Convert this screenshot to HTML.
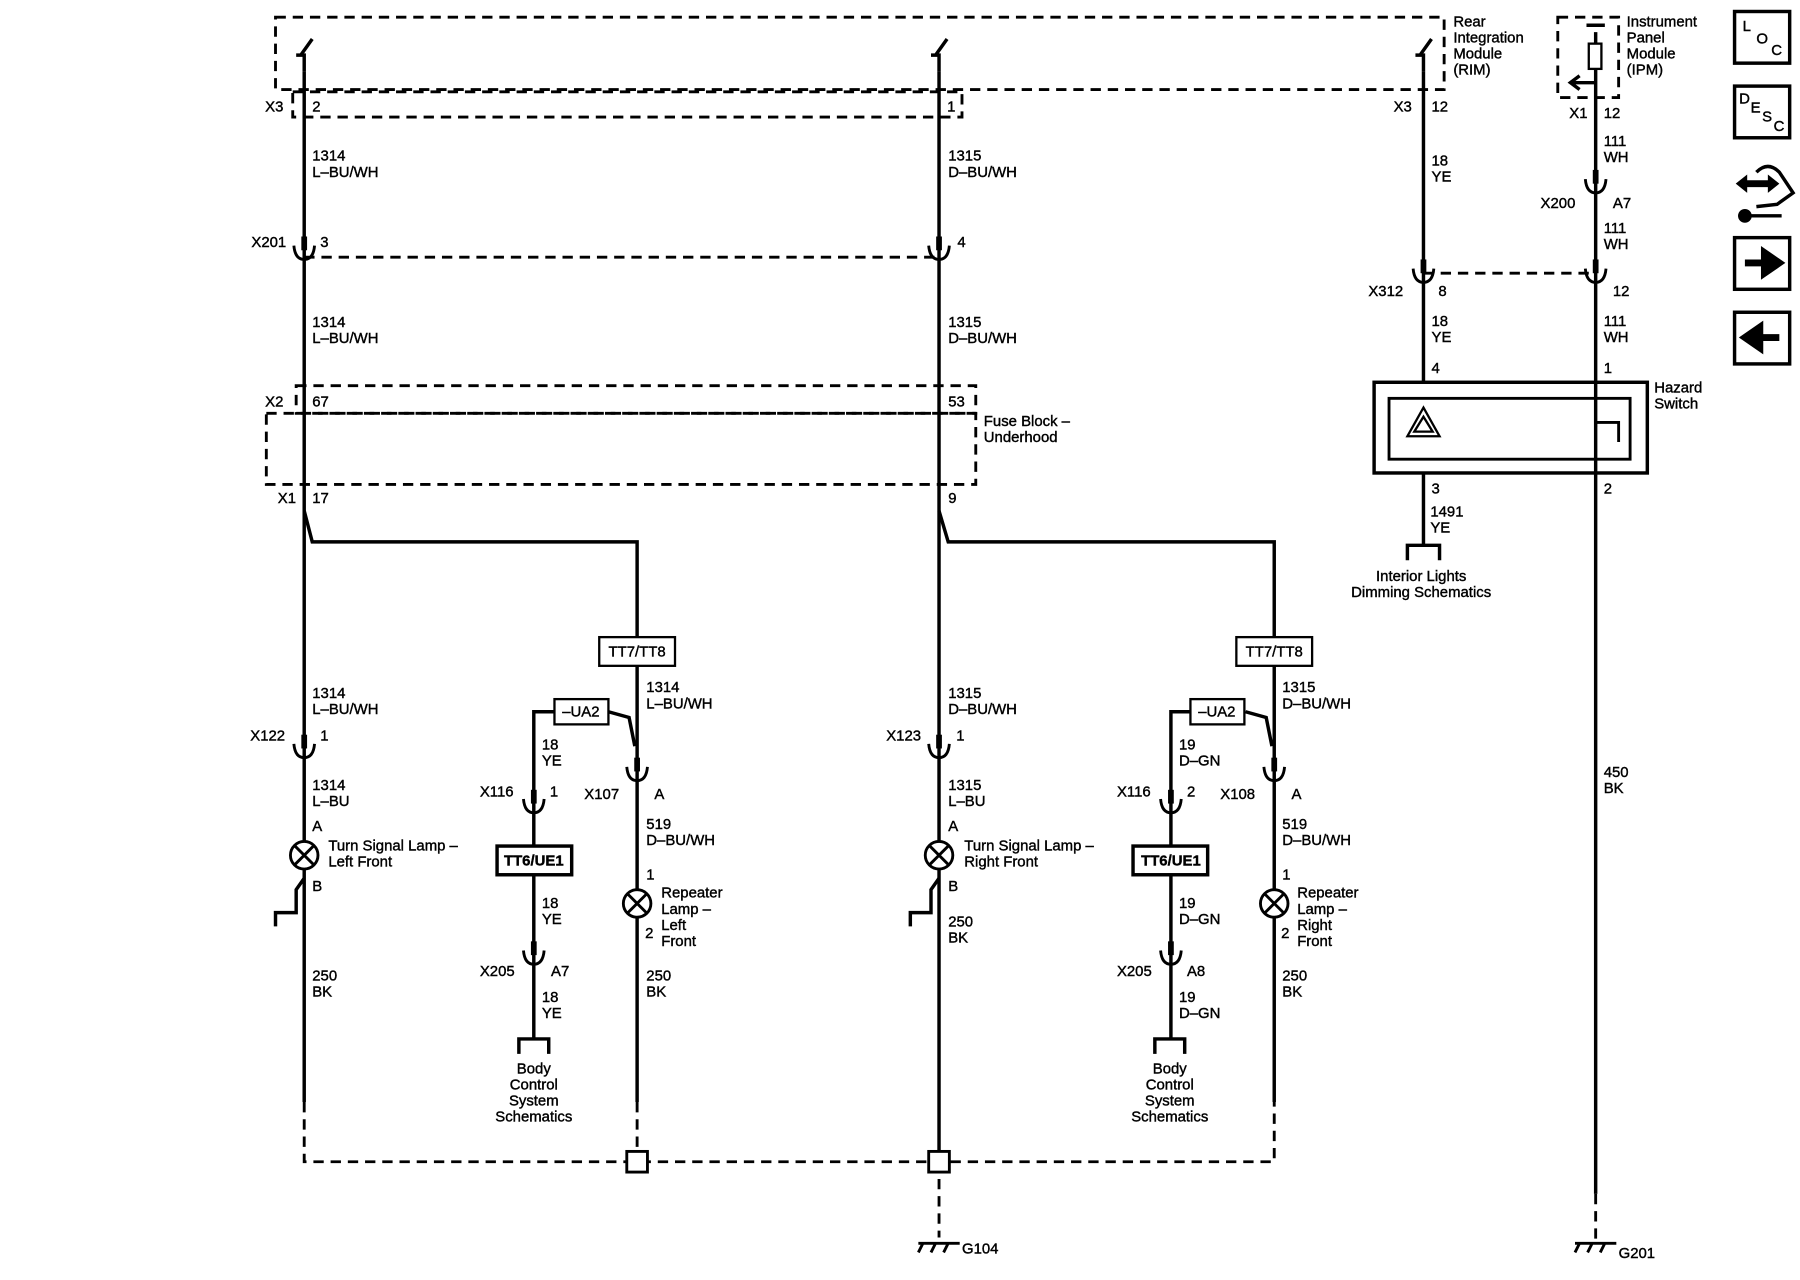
<!DOCTYPE html>
<html><head><meta charset="utf-8"><style>
html,body{margin:0;padding:0;background:#fff}
svg{display:block}
text{font-family:"Liberation Sans",sans-serif;font-size:13px;fill:#000;stroke:#000;stroke-width:0.35}
</style></head><body>
<svg width="1800" height="1280" viewBox="0 0 1568 1115" xmlns="http://www.w3.org/2000/svg">
<defs>
<g id="c"><path d="M-9,-12 Q-8,0 0,0 Q8,0 9,-12" fill="none" stroke="#000" stroke-width="2.5"/><rect x="-2.5" y="-20" width="5" height="12" fill="#000"/></g>
<g id="gnd"><path d="M-18,0 H18 M-14,0 L-18,8 M-3,0 L-7,8 M8,0 L4,8" stroke="#000" stroke-width="2.5" fill="none"/></g>
</defs>
<g fill="none" stroke="#000" stroke-width="2.5" stroke-dasharray="9,6">
<rect x="240" y="15" width="1018" height="63"/>
<rect x="255" y="80" width="583" height="22"/>
<line x1="265" y1="224" x2="818" y2="224"/>
<rect x="258" y="336" width="592" height="24"/>
<rect x="232" y="360" width="618" height="62"/>
<line x1="1240" y1="238" x2="1390" y2="238"/>
<rect x="1357" y="15" width="53" height="70"/>
<polyline points="265,960 265,1012 1110,1012 1110,960"/>
<line x1="555" y1="960" x2="555" y2="1012"/>
<line x1="818" y1="1012" x2="818" y2="1078"/>
<line x1="1390" y1="1040" x2="1390" y2="1085"/>
</g>
<g fill="none" stroke="#000" stroke-width="3">
<path d="M265,62 V48 L258,48 M262,48 L272,34"/>
<path d="M818,62 V48 L811,48 M815,48 L825,34"/>
<path d="M1240,62 V48 L1233,48 M1237,48 L1247,34"/>
<line x1="265" y1="62" x2="265" y2="960"/>
<line x1="818" y1="62" x2="818" y2="1012"/>
<line x1="1240" y1="62" x2="1240" y2="333"/>
<line x1="1240" y1="412" x2="1240" y2="475"/>
<path d="M1226,488 V475 H1254 V488"/>
<line x1="1390" y1="28" x2="1390" y2="1040"/>
<line x1="1382" y1="22" x2="1398" y2="22"/>
<rect x="1384" y="38" width="11" height="22" stroke-width="2" fill="#fff"/>
<path d="M1390,72 H1370 M1376,66 L1368,72 L1376,78"/>
<polyline points="265,445 272,472 555,472 555,555"/>
<polyline points="818,445 826,472 1110,472 1110,555"/>
<line x1="555" y1="580" x2="555" y2="960"/>
<line x1="1110" y1="580" x2="1110" y2="960"/>
<polyline points="483,620 465,620 465,905"/>
<polyline points="1037,620 1020,620 1020,905"/>
<polyline points="530,620 548,625 553,650"/>
<polyline points="1085,620 1103,625 1108,650"/>
<path d="M452,918 V905 H478 V918"/>
<path d="M1006,918 V905 H1032 V918"/>
<path d="M265,765 L258,775 V795 H240 V807"/>
<path d="M818,765 L811,775 V795 H793 V807"/>
<rect x="1197" y="333" width="238" height="79"/>
<rect x="1210" y="347" width="210" height="53" stroke-width="2.5"/>
<path d="M1240,355 L1254,380 H1226 Z M1240,363 L1248,376 H1232 Z" stroke-width="2"/>
<path d="M1390,372 V368 H1410 V385" stroke-width="2.5"/>
</g>
<g fill="#fff" stroke="#000" stroke-width="2.5">
<circle cx="265" cy="745" r="12"/><path d="M257,737 L273,753 M273,737 L257,753"/>
<circle cx="818" cy="745" r="12"/><path d="M810,737 L826,753 M826,737 L810,753"/>
<circle cx="555" cy="787" r="12"/><path d="M547,779 L563,795 M563,779 L547,795"/>
<circle cx="1110" cy="787" r="12"/><path d="M1102,779 L1118,795 M1118,779 L1102,795"/>
<rect x="522" y="555" width="66" height="25" stroke-width="2"/>
<rect x="1077" y="555" width="66" height="25" stroke-width="2"/>
<rect x="483" y="609" width="47" height="22" stroke-width="2"/>
<rect x="1037" y="609" width="47" height="22" stroke-width="2"/>
<rect x="433" y="737" width="65" height="25" stroke-width="3"/>
<rect x="987" y="737" width="65" height="25" stroke-width="3"/>
<rect x="546" y="1003" width="18" height="18"/>
<rect x="809" y="1003" width="18" height="18"/>
</g>
<use href="#c" x="265" y="226"/><use href="#c" x="818" y="226"/>
<use href="#c" x="265" y="660"/><use href="#c" x="818" y="660"/>
<use href="#c" x="465" y="708"/><use href="#c" x="1020" y="708"/>
<use href="#c" x="555" y="680"/><use href="#c" x="1110" y="680"/>
<use href="#c" x="465" y="840"/><use href="#c" x="1020" y="840"/>
<use href="#c" x="1240" y="246"/><use href="#c" x="1390" y="246"/>
<use href="#c" x="1390" y="168"/>
<use href="#gnd" x="818" y="1083"/><use href="#gnd" x="1390" y="1083"/>
<g>
<text x="1266" y="23">Rear</text><text x="1266" y="37">Integration</text><text x="1266" y="51">Module</text><text x="1266" y="65">(RIM)</text>
<text x="1417" y="23">Instrument</text><text x="1417" y="37">Panel</text><text x="1417" y="51">Module</text><text x="1417" y="65">(IPM)</text>
<text x="231" y="97">X3</text><text x="272" y="97">2</text><text x="825" y="97">1</text>
<text x="1214" y="97">X3</text><text x="1247" y="97">12</text>
<text x="1367" y="103">X1</text><text x="1397" y="103">12</text>
<text x="272" y="140">1314</text><text x="272" y="154">L–BU/WH</text>
<text x="826" y="140">1315</text><text x="826" y="154">D–BU/WH</text>
<text x="1247" y="144">18</text><text x="1247" y="158">YE</text>
<text x="1397" y="127">111</text><text x="1397" y="141">WH</text>
<text x="1342" y="181">X200</text><text x="1405" y="181">A7</text>
<text x="1397" y="203">111</text><text x="1397" y="217">WH</text>
<text x="219" y="215">X201</text><text x="279" y="215">3</text><text x="834" y="215">4</text>
<text x="1192" y="258">X312</text><text x="1253" y="258">8</text><text x="1405" y="258">12</text>
<text x="272" y="285">1314</text><text x="272" y="299">L–BU/WH</text>
<text x="826" y="285">1315</text><text x="826" y="299">D–BU/WH</text>
<text x="1247" y="284">18</text><text x="1247" y="298">YE</text>
<text x="1397" y="284">111</text><text x="1397" y="298">WH</text>
<text x="1247" y="325">4</text><text x="1397" y="325">1</text>
<text x="1441" y="342">Hazard</text><text x="1441" y="356">Switch</text>
<text x="231" y="354">X2</text><text x="272" y="354">67</text><text x="826" y="354">53</text>
<text x="857" y="371">Fuse Block –</text><text x="857" y="385">Underhood</text>
<text x="242" y="438">X1</text><text x="272" y="438">17</text><text x="826" y="438">9</text>
<text x="1247" y="430">3</text><text x="1397" y="430">2</text>
<text x="1246" y="450">1491</text><text x="1246" y="464">YE</text>
<text x="1238" y="506" text-anchor="middle">Interior Lights</text><text x="1238" y="520" text-anchor="middle">Dimming Schematics</text>
<text x="555" y="572" text-anchor="middle" font-size="12">TT7/TT8</text>
<text x="1110" y="572" text-anchor="middle" font-size="12">TT7/TT8</text>
<text x="563" y="603">1314</text><text x="563" y="617">L–BU/WH</text>
<text x="1117" y="603">1315</text><text x="1117" y="617">D–BU/WH</text>
<text x="506" y="624" text-anchor="middle" font-size="12">–UA2</text>
<text x="1060" y="624" text-anchor="middle" font-size="12">–UA2</text>
<text x="272" y="608">1314</text><text x="272" y="622">L–BU/WH</text>
<text x="826" y="608">1315</text><text x="826" y="622">D–BU/WH</text>
<text x="218" y="645">X122</text><text x="279" y="645">1</text>
<text x="772" y="645">X123</text><text x="833" y="645">1</text>
<text x="472" y="653">18</text><text x="472" y="667">YE</text>
<text x="1027" y="653">19</text><text x="1027" y="667">D–GN</text>
<text x="272" y="688">1314</text><text x="272" y="702">L–BU</text>
<text x="826" y="688">1315</text><text x="826" y="702">L–BU</text>
<text x="418" y="694">X116</text><text x="479" y="694">1</text>
<text x="509" y="696">X107</text><text x="570" y="696">A</text>
<text x="973" y="694">X116</text><text x="1034" y="694">2</text>
<text x="1063" y="696">X108</text><text x="1125" y="696">A</text>
<text x="272" y="724">A</text><text x="826" y="724">A</text>
<text x="563" y="722">519</text><text x="563" y="736">D–BU/WH</text>
<text x="1117" y="722">519</text><text x="1117" y="736">D–BU/WH</text>
<text x="286" y="741">Turn Signal Lamp –</text><text x="286" y="755">Left Front</text>
<text x="840" y="741">Turn Signal Lamp –</text><text x="840" y="755">Right Front</text>
<text x="465" y="754" text-anchor="middle" font-weight="bold" font-size="12">TT6/UE1</text>
<text x="1020" y="754" text-anchor="middle" font-weight="bold" font-size="12">TT6/UE1</text>
<text x="563" y="766">1</text><text x="1117" y="766">1</text>
<text x="272" y="776">B</text><text x="826" y="776">B</text>
<text x="576" y="782">Repeater</text><text x="576" y="796">Lamp –</text><text x="576" y="810">Left</text><text x="576" y="824">Front</text>
<text x="1130" y="782">Repeater</text><text x="1130" y="796">Lamp –</text><text x="1130" y="810">Right</text><text x="1130" y="824">Front</text>
<text x="562" y="817">2</text><text x="1116" y="817">2</text>
<text x="472" y="791">18</text><text x="472" y="805">YE</text>
<text x="1027" y="791">19</text><text x="1027" y="805">D–GN</text>
<text x="826" y="807">250</text><text x="826" y="821">BK</text>
<text x="418" y="850">X205</text><text x="480" y="850">A7</text>
<text x="973" y="850">X205</text><text x="1034" y="850">A8</text>
<text x="272" y="854">250</text><text x="272" y="868">BK</text>
<text x="563" y="854">250</text><text x="563" y="868">BK</text>
<text x="1117" y="854">250</text><text x="1117" y="868">BK</text>
<text x="472" y="873">18</text><text x="472" y="887">YE</text>
<text x="1027" y="873">19</text><text x="1027" y="887">D–GN</text>
<text x="1397" y="677">450</text><text x="1397" y="691">BK</text>
<text x="465" y="935" text-anchor="middle">Body</text><text x="465" y="949" text-anchor="middle">Control</text><text x="465" y="963" text-anchor="middle">System</text><text x="465" y="977" text-anchor="middle">Schematics</text>
<text x="1019" y="935" text-anchor="middle">Body</text><text x="1019" y="949" text-anchor="middle">Control</text><text x="1019" y="963" text-anchor="middle">System</text><text x="1019" y="977" text-anchor="middle">Schematics</text>
<text x="838" y="1092">G104</text><text x="1410" y="1096">G201</text>
</g>
<g fill="none" stroke="#000" stroke-width="3">
<rect x="1511" y="10" width="48" height="45"/>
<rect x="1511" y="75" width="48" height="45"/>
<rect x="1511" y="207" width="48" height="45"/>
<rect x="1511" y="272" width="48" height="45"/>
<path d="M1530,150 Q1540,140 1550,150 L1562,168 L1548,178 L1530,180"/>
<path d="M1520,188 H1552"/>
</g>
<text x="1518" y="27" font-size="12">L</text><text x="1530" y="38" font-size="12">O</text><text x="1543" y="48" font-size="12">C</text>
<text x="1515" y="90" font-size="11">D</text><text x="1525" y="98" font-size="11">E</text><text x="1535" y="106" font-size="11">S</text><text x="1545" y="114" font-size="11">C</text>
<path d="M1512,160 L1522,152 V157 H1540 V152 L1550,160 L1540,168 V163 H1522 V168 Z" fill="#000"/>
<circle cx="1520" cy="188" r="6" fill="#000"/>
<path d="M1520,229 H1537 V220 L1550,229 L1537,238 V229" fill="#000" stroke="#000" stroke-width="6"/>
<path d="M1550,294 H1533 V285 L1520,294 L1533,303 V294" fill="#000" stroke="#000" stroke-width="6"/>
</svg>
</body></html>
